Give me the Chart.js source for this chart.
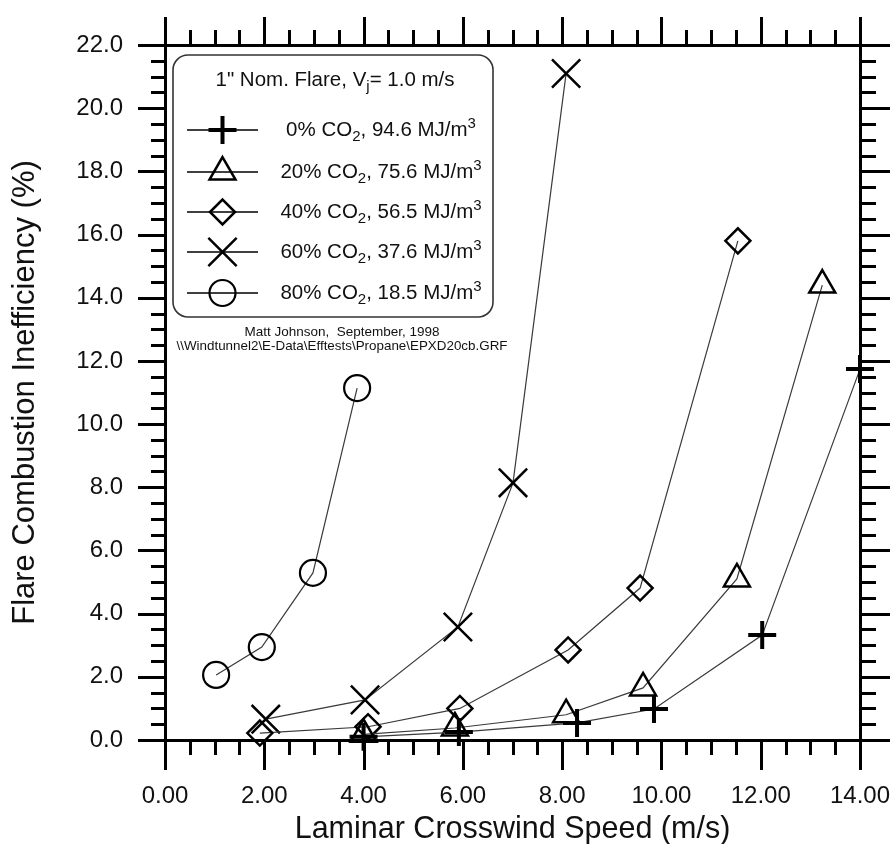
<!DOCTYPE html>
<html>
<head>
<meta charset="utf-8">
<script src="https://cdn.jsdelivr.net/npm/chart.js@4.4.1/dist/chart.umd.min.js"></script>
<style>
html, body { margin: 0; padding: 0; background: #ffffff; }
canvas { display: block; }
</style>
</head>
<body>
<canvas id="c" width="892" height="844"></canvas>
<script>
// ---- data ----
const speed0  = [4.00, 5.92, 8.30, 9.85, 12.03, 14.00];
const ineff0  = [0.10, 0.25, 0.54, 0.98, 3.32, 11.74];
const speed20 = [4.00, 5.84, 8.08, 9.63, 11.52, 13.24];
const ineff20 = [0.18, 0.38, 0.80, 1.65, 5.10, 14.40];
const speed40 = [1.91, 4.09, 5.94, 8.12, 9.57, 11.54];
const ineff40 = [0.22, 0.42, 1.00, 2.85, 4.81, 15.80];
const speed60 = [2.03, 4.03, 5.90, 7.01, 8.08];
const ineff60 = [0.66, 1.27, 3.58, 8.14, 21.10];
const speed80 = [1.03, 1.95, 2.98, 3.87];
const ineff80 = [2.06, 2.94, 5.29, 11.14];

const seriesPct    = ['0%', '20%', '40%', '60%', '80%'];
const seriesEnergy = ['94.6', '75.6', '56.5', '37.6', '18.5'];

const legendTitle = ['1" Nom. Flare, V', 'j', '= 1.0 m/s'];
const creditLine1 = 'Matt Johnson,  September, 1998';
const creditLine2 = '\\\\Windtunnel2\\E-Data\\Efftests\\Propane\\EPXD20cb.GRF';
const xTitle = 'Laminar Crosswind Speed (m/s)';
const yTitle = 'Flare Combustion Inefficiency (%)';

const xMin = 0, xMax = 14, xMinor = 0.5, xMajor = 2;
const yMin = 0, yMax = 22, yMinor = 0.5, yMajor = 2;

// ---- styles ----
const FONT = '"Liberation Sans", Arial, Helvetica, sans-serif';
const markerStyles = [
  { pointStyle: 'cross',    radius: 14,   width: 4   },
  { pointStyle: 'triangle', radius: 15,   width: 2.5 },
  { pointStyle: 'rectRot',  radius: 12.5, width: 2.5 },
  { pointStyle: 'crossRot', radius: 20,   width: 2.5 },
  { pointStyle: 'circle',   radius: 13,   width: 2.2 }
];
const speeds = [speed0, speed20, speed40, speed60, speed80];
const ineffs = [ineff0, ineff20, ineff40, ineff60, ineff80];

const datasets = speeds.map((sp, i) => ({
  label: seriesPct[i] + ' CO2, ' + seriesEnergy[i] + ' MJ/m3',
  data: sp.map((v, k) => ({ x: v, y: ineffs[i][k] })),
  borderColor: '#3a3a3a',
  borderWidth: 1.2,
  tension: 0,
  fill: false,
  pointStyle: markerStyles[i].pointStyle,
  pointRadius: markerStyles[i].radius,
  pointBorderWidth: markerStyles[i].width,
  pointBorderColor: '#000',
  pointBackgroundColor: 'rgba(0,0,0,0)',
  clip: false
}));

const isMult = (v, step) => Math.abs(v / step - Math.round(v / step)) < 1e-6;

// own marker drawing (same geometry as Chart.js point styles) for the legend
function drawMarker(ctx, style, radius, x, y) {
  const Q = Math.PI / 4;
  ctx.beginPath();
  if (style === 'circle') {
    ctx.arc(x, y, radius, 0, Math.PI * 2);
    ctx.closePath();
  } else if (style === 'triangle') {
    let rad = 0;
    ctx.moveTo(x + Math.sin(rad) * radius, y - Math.cos(rad) * radius);
    rad += 2 * Math.PI / 3;
    ctx.lineTo(x + Math.sin(rad) * radius, y - Math.cos(rad) * radius);
    rad += 2 * Math.PI / 3;
    ctx.lineTo(x + Math.sin(rad) * radius, y - Math.cos(rad) * radius);
    ctx.closePath();
  } else if (style === 'rectRot') {
    ctx.moveTo(x - radius, y);
    ctx.lineTo(x, y - radius);
    ctx.lineTo(x + radius, y);
    ctx.lineTo(x, y + radius);
    ctx.closePath();
  } else if (style === 'cross') {
    ctx.moveTo(x - radius, y); ctx.lineTo(x + radius, y);
    ctx.moveTo(x, y - radius); ctx.lineTo(x, y + radius);
  } else if (style === 'crossRot') {
    const o = Math.cos(Q) * radius;
    ctx.moveTo(x - o, y - o); ctx.lineTo(x + o, y + o);
    ctx.moveTo(x + o, y - o); ctx.lineTo(x - o, y + o);
  }
  ctx.stroke();
}

function drawRich(ctx, parts, cx, cy, size) {
  const fontFor = p => ((p.sub || p.sup) ? Math.round(size * 0.75) : size) + 'px ' + FONT;
  let total = 0;
  const widths = parts.map(p => { ctx.font = fontFor(p); const w = ctx.measureText(p.t).width; total += w; return w; });
  let xx = cx - total / 2;
  ctx.textAlign = 'left';
  ctx.textBaseline = 'middle';
  parts.forEach((p, i) => {
    ctx.font = fontFor(p);
    const dy = p.sub ? size * 0.35 : (p.sup ? -size * 0.3 : 0);
    ctx.fillText(p.t, xx, cy + dy);
    xx += widths[i];
  });
}

function fitText(ctx, text, cx, cy, size, targetW) {
  ctx.font = size + 'px ' + FONT;
  const w = ctx.measureText(text).width;
  const s = targetW / w;
  ctx.save();
  ctx.translate(cx, cy);
  ctx.scale(s, 1);
  ctx.textAlign = 'center';
  ctx.textBaseline = 'middle';
  ctx.fillText(text, 0, 0);
  ctx.restore();
}

const frameTicks = {
  id: 'frameTicks',
  afterDraw(chart) {
    const { ctx, chartArea: ca } = chart;
    const xs = chart.scales.x, ys = chart.scales.y;
    ctx.save();
    ctx.strokeStyle = '#000';
    ctx.lineWidth = 3;
    ctx.lineCap = 'butt';
    ctx.beginPath();
    xs.ticks.forEach(t => {
      const px = Math.round(xs.getPixelForValue(t.value)) + 0.5;
      const major = isMult(t.value, xMajor);
      const lb = major ? 30 : 15, lt = major ? 28 : 15;
      ctx.moveTo(px, ca.bottom); ctx.lineTo(px, ca.bottom + lb);
      ctx.moveTo(px, ca.top); ctx.lineTo(px, ca.top - lt);
    });
    ys.ticks.forEach(t => {
      const py = Math.round(ys.getPixelForValue(t.value)) + 0.5;
      const major = isMult(t.value, yMajor);
      const ll = major ? 27 : 14, lr = major ? 30 : 16;
      ctx.moveTo(ca.left, py); ctx.lineTo(ca.left - ll, py);
      ctx.moveTo(ca.right, py); ctx.lineTo(ca.right + lr, py);
    });
    ctx.stroke();
    ctx.restore();
  }
};

const legendBox = {
  id: 'legendBox',
  afterDraw(chart) {
    const ctx = chart.ctx;
    ctx.save();
    const bx = 173, by = 55, bw = 320, bh = 262, r = 15;
    ctx.beginPath();
    ctx.moveTo(bx + r, by);
    ctx.lineTo(bx + bw - r, by);
    ctx.arcTo(bx + bw, by, bx + bw, by + r, r);
    ctx.lineTo(bx + bw, by + bh - r);
    ctx.arcTo(bx + bw, by + bh, bx + bw - r, by + bh, r);
    ctx.lineTo(bx + r, by + bh);
    ctx.arcTo(bx, by + bh, bx, by + bh - r, r);
    ctx.lineTo(bx, by + r);
    ctx.arcTo(bx, by, bx + r, by, r);
    ctx.closePath();
    ctx.fillStyle = '#fff';
    ctx.fill();
    ctx.strokeStyle = '#333';
    ctx.lineWidth = 1.6;
    ctx.stroke();

    ctx.fillStyle = '#111';
    drawRich(ctx, [{ t: legendTitle[0] }, { t: legendTitle[1], sub: true }, { t: legendTitle[2] }], 335, 80, 20.5);

    const rowY = [130, 172, 212, 252, 293];
    chart.data.datasets.forEach((ds, i) => {
      const y = rowY[i];
      ctx.strokeStyle = '#000';
      ctx.lineWidth = 1.5;
      ctx.beginPath();
      ctx.moveTo(187, y); ctx.lineTo(258, y);
      ctx.stroke();
      ctx.lineWidth = markerStyles[i].width;
      drawMarker(ctx, markerStyles[i].pointStyle, markerStyles[i].radius, 222.5, y);
      ctx.fillStyle = '#111';
      drawRich(ctx, [
        { t: seriesPct[i] + ' CO' }, { t: '2', sub: true },
        { t: ', ' + seriesEnergy[i] + ' MJ/m' }, { t: '3', sup: true }
      ], 381, y, 20.5);
    });

    ctx.fillStyle = '#111';
    fitText(ctx, creditLine1, 342, 332, 13, 195);
    fitText(ctx, creditLine2, 342, 346, 13, 331);
    ctx.restore();
  }
};

const noPadX = s => { s.paddingLeft = 0; s.paddingRight = 0; };
const noPadY = s => { s.paddingTop = 0; s.paddingBottom = 0; };

new Chart(document.getElementById('c'), {
  type: 'line',
  data: { datasets },
  plugins: [frameTicks, legendBox],
  options: {
    responsive: false,
    animation: false,
    devicePixelRatio: 1,
    events: [],
    layout: { padding: 0 },
    plugins: { legend: { display: false }, tooltip: { enabled: false } },
    scales: {
      x: {
        type: 'linear', position: 'bottom', min: xMin, max: xMax,
        grid: { display: false, drawTicks: false },
        border: { display: true, width: 3, color: '#000' },
        ticks: {
          stepSize: xMinor, autoSkip: false, maxRotation: 0, padding: 42,
          color: '#111', font: { family: FONT, size: 24 },
          callback: v => isMult(v, xMajor) ? Number(v).toFixed(2) : ''
        },
        title: { display: true, text: xTitle, color: '#111', font: { family: FONT, size: 30.5 }, padding: { top: 0, bottom: -4 } },
        afterFit: s => { s.height = 104; noPadX(s); }
      },
      x2: {
        type: 'linear', position: 'top', min: xMin, max: xMax, display: true,
        grid: { display: false, drawTicks: false },
        border: { display: true, width: 3, color: '#000' },
        ticks: { display: false, stepSize: xMinor },
        afterFit: s => { s.height = 45; noPadX(s); }
      },
      y: {
        type: 'linear', position: 'left', min: yMin, max: yMax,
        grid: { display: false, drawTicks: false },
        border: { display: true, width: 3, color: '#000' },
        ticks: {
          stepSize: yMinor, autoSkip: false, padding: 42,
          color: '#111', font: { family: FONT, size: 24 },
          callback: v => isMult(v, yMajor) ? Number(v).toFixed(1) : ''
        },
        title: { display: true, text: yTitle, color: '#111', font: { family: FONT, size: 31 }, padding: { top: 7, bottom: 0 } },
        afterFit: s => { s.width = 165; noPadY(s); }
      },
      y2: {
        type: 'linear', position: 'right', min: yMin, max: yMax, display: true,
        grid: { display: false, drawTicks: false },
        border: { display: true, width: 3, color: '#000' },
        ticks: { display: false, stepSize: yMinor },
        afterFit: s => { s.width = 32; noPadY(s); }
      }
    }
  }
});
</script>
</body>
</html>
